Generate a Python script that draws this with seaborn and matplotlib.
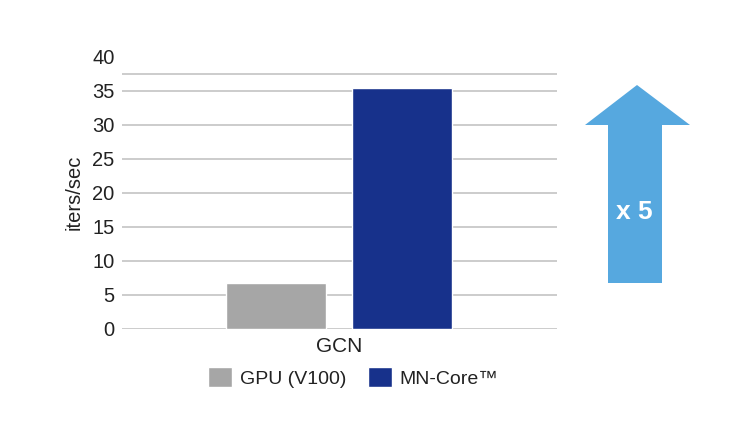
import pandas as pd
import matplotlib
matplotlib.use('Agg')
import matplotlib.pyplot as plt
import seaborn as sns
from matplotlib.patches import Polygon

# data
benchmark = ['GCN', 'GCN']
devices = ['GPU (V100)', 'MN-Core\u2122']
iters_per_sec = [6.7, 35.4]
speedup_label = 'x 5'

colors = {'GPU (V100)': '#a6a6a6', 'MN-Core\u2122': '#17318b'}
arrow_color = '#56a8df'

df = pd.DataFrame({'benchmark': benchmark, 'device': devices, 'value': iters_per_sec})

sns.set_style('white')
plt.rcParams['font.family'] = ['Liberation Sans', 'DejaVu Sans']

fig = plt.figure(figsize=(7.5, 4.22), dpi=100)
ax = fig.add_axes([0.162, 0.221, 0.58, 0.645])

sns.barplot(data=df, x='benchmark', y='value', hue='device', palette=colors,
            width=0.58, gap=0.21, saturation=1, ax=ax, legend=True)

ax.set_ylim(0, 40)
ax.set_yticks(range(0, 41, 5))
ax.set_xlim(-0.5, 0.5)
ax.yaxis.grid(True, color='#c8c8c8', linewidth=1.3)
ax.get_ygridlines()[-1].set_visible(False)
ax.axhline(37.5, color='#c8c8c8', linewidth=1.3, zorder=0)
ax.set_axisbelow(True)
sns.despine(ax=ax, left=True, bottom=True, top=True, right=True)
ax.tick_params(axis='y', length=0, labelsize=14.5, colors='#222222', pad=5)
ax.tick_params(axis='x', length=0, labelsize=15, colors='#222222', pad=6)
ax.set_xlabel('')
ax.set_ylabel('iters/sec', fontsize=14.5, color='#222222', labelpad=6)

leg = ax.legend(loc='center', bbox_to_anchor=(0.471, 0.106), bbox_transform=fig.transFigure,
                ncol=2, frameon=False, fontsize=14, handlelength=1.22, handleheight=1.22,
                columnspacing=1.15, handletextpad=0.38, labelcolor='#222222')

# speed-up arrow on the right
W, H = 750, 422
pts = [(608, 283), (608, 125), (585, 125), (637, 85), (690, 125), (662, 125), (662, 283)]
fig.patches.append(Polygon([(x / W, 1 - y / H) for x, y in pts], closed=True,
                           facecolor=arrow_color, edgecolor='none',
                           transform=fig.transFigure, figure=fig))
fig.text(634 / W, 1 - 212 / H, speedup_label, color='white', fontsize=19,
         fontweight='bold', ha='center', va='center')

fig.savefig('out.png', dpi=100)
